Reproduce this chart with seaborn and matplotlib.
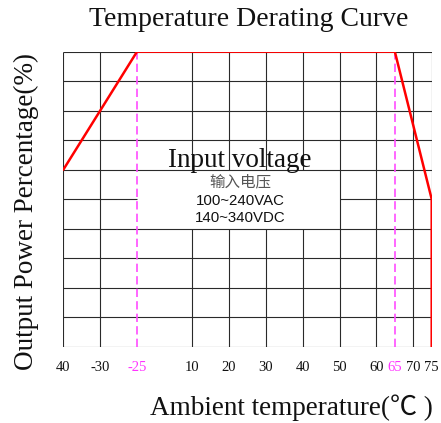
import numpy as np
import pandas as pd
import matplotlib
matplotlib.use("Agg")
import matplotlib.pyplot as plt
import seaborn as sns

# ---- data ----
tick_temps = [-40, -30, -25, 10, 20, 30, 40, 50, 60, 65, 70, 75]
tick_labels = ["40", "-30", "-25", "10", "20", "30", "40", "50", "60", "65", "70", "75"]
# non-linear axis: slot position of each tick on the drawn scale
tick_slots = [0, 1, 2, 3.5, 4.5, 5.5, 6.5, 7.5, 8.5, 9, 9.5, 10]
highlight_temps = [-25, 65]

curve_temps = [-40, -25, 65, 75, 75]
curve_power = [60, 100, 100, 50, 0]

power_grid = [0, 10, 20, 30, 40, 50, 60, 70, 80, 90, 100]
grid_temps = [-40, -30, 10, 20, 30, 40, 50, 60, 70, 75]

title = "Temperature Derating Curve"
xlabel = "Ambient temperature(\u2103 )"
ylabel = "Output Power Percentage(%)"
box_title = "Input voltage"
box_lines = ["输入电压", "100~240VAC", "140~340VDC"]


def pos(t):
    return np.interp(t, tick_temps, tick_slots)


sns.set_theme(style="white")
serif = ["Liberation Serif", "Noto Sans CJK SC", "DejaVu Serif", "DejaVu Sans"]
plt.rcParams["font.family"] = serif

fig = plt.figure(figsize=(4.41, 4.23), dpi=100)
ax = fig.add_axes([63.3 / 441, (423 - 346.7) / 423, 368.4 / 441, 295 / 423])
ax.set_xlim(0, 10)
ax.set_ylim(0, 100)
for s in ax.spines.values():
    s.set_visible(False)

grid_kw = dict(color="#2a2a2a", lw=0.8, zorder=1)
box_x0, box_x1 = pos(-25), pos(50)
box_y0, box_y1 = 40, 60

# vertical grid lines (gap inside the text box)
for t in grid_temps:
    x = pos(t)
    if box_x0 < x < box_x1:
        ax.vlines(x, 0, box_y0, **grid_kw)
        ax.vlines(x, box_y1, 100, **grid_kw)
    else:
        ax.vlines(x, 0, 100, **grid_kw)
# horizontal grid lines
for p in power_grid:
    if box_y0 < p < box_y1:
        ax.hlines(p, 0, box_x0, **grid_kw)
        ax.hlines(p, box_x1, 10, **grid_kw)
    else:
        ax.hlines(p, 0, 10, **grid_kw)

# magenta dashed markers
for t in highlight_temps:
    ax.axvline(pos(t), color="#ff4dff", lw=1.2, dashes=(5, 2.5), zorder=2)

# derating curve
df = pd.DataFrame({"slot": pos(curve_temps), "power": curve_power})
sns.lineplot(data=df, x="slot", y="power", sort=False, estimator=None,
             color="#ff0000", lw=1.8, ax=ax, zorder=3)

# ticks
ax.set_xticks([pos(t) for t in tick_temps])
ax.set_xticklabels(tick_labels, fontsize=10.5, family=serif)
for lab, t in zip(ax.get_xticklabels(), tick_temps):
    if t in highlight_temps:
        lab.set_color("#ff33ff")
    else:
        lab.set_color("#111111")
ax.tick_params(axis="x", length=0, pad=10)
ax.set_yticks([])

ax.set_xlabel(xlabel, fontsize=19.5, family=serif, color="#111111")
ax.xaxis.set_label_coords(0.618, -0.208)
ax.xaxis.label.set_va("center")
ax.set_ylabel(ylabel, fontsize=19.5, family=serif, color="#111111")
ax.yaxis.set_label_coords(-0.1, 0.457)
ax.yaxis.label.set_va("center")

ax.text(0.504, 1.087, title, transform=ax.transAxes, ha="center", va="baseline",
        fontsize=20, family=serif, color="#111111")

# text box
cx = 4.8
ax.text(cx, 60.8, box_title, ha="center", va="baseline", fontsize=19.5,
        family=serif, color="#111111", zorder=4)
sans = ["Noto Sans CJK SC", "Liberation Sans", "DejaVu Sans"]
ax.text(cx, 55.9, box_lines[0], ha="center", va="center", fontsize=11.2,
        family=sans, color="#555555", zorder=4)
for txt, y in zip(box_lines[1:], [49.4, 43.6]):
    ax.text(cx, y, txt, ha="center", va="center", fontsize=10.8,
            family=["Liberation Sans", "DejaVu Sans"], color="#111111", zorder=4)

fig.savefig("out.png", dpi=100)
